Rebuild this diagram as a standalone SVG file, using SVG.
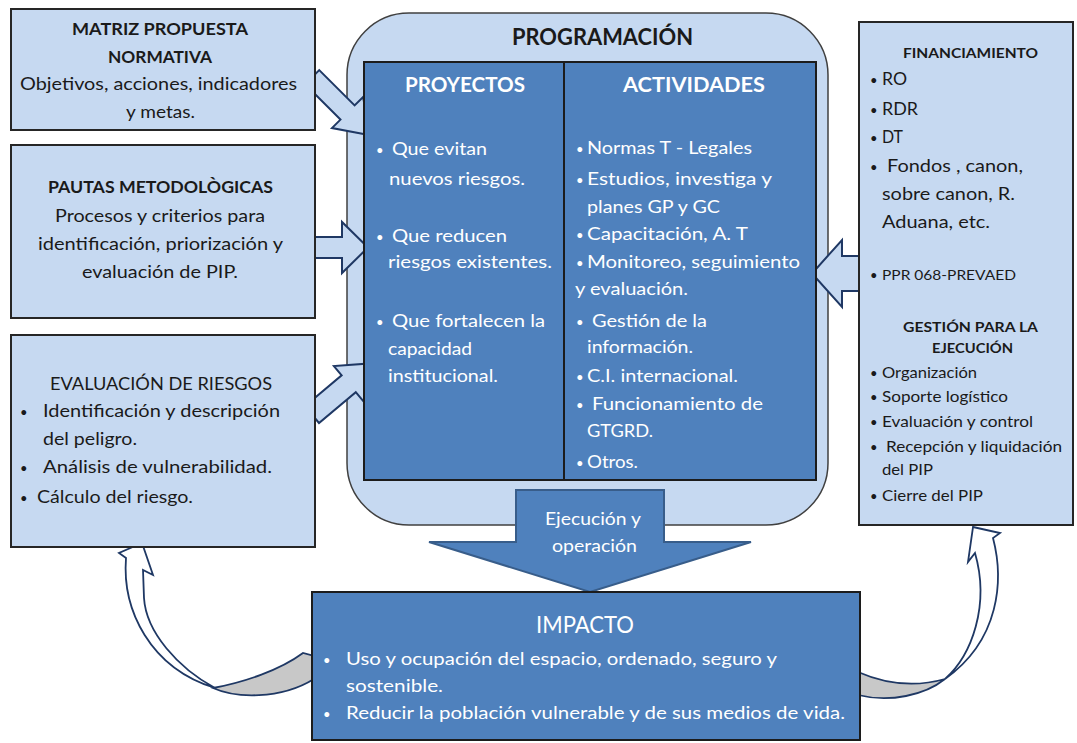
<svg xmlns="http://www.w3.org/2000/svg" width="1077" height="743" viewBox="0 0 1077 743">
<style>
.lb{fill:#C6D9F1;stroke:#262626;stroke-width:2}
.db{fill:#4F81BD;stroke:#1c1c1c;stroke-width:2}
text{font-family:Lato,"Liberation Sans",sans-serif;fill:#1a1a1a;font-size:17px}
.w{fill:#ffffff}
.b{font-weight:bold}
.h{font-size:14px}
.s{font-size:15px}
.bu{font-size:13px}
.arr{fill:#C6D9F1;stroke:#1F3864;stroke-width:2;stroke-linejoin:miter}
.carr{fill:#ffffff;stroke:#1F3864;stroke-width:1.8;stroke-linejoin:miter}
.gray{fill:#C8C8C8;stroke:#1F3864;stroke-width:1.8}
.ej{fill:#4F81BD;stroke:#385D8A;stroke-width:2}
</style>
<rect width="1077" height="743" fill="#ffffff"/>

<g id="programacion">
<rect x="347" y="13" width="481" height="512" rx="62" ry="62" fill="#C6D9F1" stroke="#404040" stroke-width="1.5"/>
<text x="512" y="45" class="b" font-size="22" textLength="181" lengthAdjust="spacingAndGlyphs" style="font-size:22px">PROGRAMACIÓN</text>
</g>

<g id="connectors">
<polygon class="arr" transform="translate(315,80) rotate(45)" points="-4,-10 46,-10 46,-22 78,0 46,22 46,10 -4,10"/>
<polygon class="arr" points="305,237 342,237 342,222 368,247.5 342,273 342,258 305,258"/>
<polygon class="arr" transform="translate(315,412) rotate(-40)" points="-4,-11 44,-11 44,-23 76,0 44,23 44,11 -4,11"/>
<polygon class="arr" points="870,256 842,256 842,240 812,273.5 842,307 842,291 870,291"/>
<g id="ejecucion">
<polygon class="ej" points="516,490 664,490 664,542 751,542 590,592 429,542 516,542"/>
<text x="545" y="525" class="w" textLength="96" lengthAdjust="spacingAndGlyphs">Ejecución y</text>
<text x="552" y="552" class="w" textLength="85" lengthAdjust="spacingAndGlyphs">operación</text>
</g>
<path class="carr" d="M142,543 L119,553 L126,558 C122,610 150,668 215,688 C178,668 146,632 144,598 L143,570 L153,575 Z"/>
<path class="gray" d="M213,688 C235,698 280,700 314,679 L314,656 L303,653 C280,670 245,682 213,688 Z"/>
<path class="carr" d="M973,527 L1000,533 L993,538 C1004,580 1000,640 945,679 C972,655 990,605 975,553 L968,562 Z"/>
<path class="gray" d="M945,679 C925,695 890,703 858,695 L858,672 C890,686 920,686 945,679 Z"/>
</g>

<g id="proyectos">
<rect class="db" x="364" y="62" width="200" height="418"/>
<text x="405" y="92" class="w b" style="font-size:20px" textLength="120" lengthAdjust="spacingAndGlyphs">PROYECTOS</text>
<text x="376" y="155" class="w bu">•</text>
<text x="392" y="155" class="w" textLength="95" lengthAdjust="spacingAndGlyphs">Que evitan</text>
<text x="389" y="185" class="w" textLength="136" lengthAdjust="spacingAndGlyphs">nuevos riesgos.</text>
<text x="376" y="242" class="w bu">•</text>
<text x="392" y="242" class="w" textLength="115" lengthAdjust="spacingAndGlyphs">Que reducen</text>
<text x="388" y="268" class="w" textLength="164" lengthAdjust="spacingAndGlyphs">riesgos existentes.</text>
<text x="376" y="327" class="w bu">•</text>
<text x="392" y="327" class="w" textLength="153" lengthAdjust="spacingAndGlyphs">Que fortalecen la</text>
<text x="388" y="355" class="w" textLength="84" lengthAdjust="spacingAndGlyphs">capacidad</text>
<text x="388" y="382" class="w" textLength="110" lengthAdjust="spacingAndGlyphs">institucional.</text>
</g>

<g id="actividades">
<rect class="db" x="564" y="62" width="252" height="418"/>
<text x="623" y="92" class="w b" style="font-size:20px" textLength="142" lengthAdjust="spacingAndGlyphs">ACTIVIDADES</text>
<text x="576" y="154" class="w bu">•</text>
<text x="587" y="154" class="w" textLength="165" lengthAdjust="spacingAndGlyphs">Normas T - Legales</text>
<text x="576" y="185" class="w bu">•</text>
<text x="587" y="185" class="w" textLength="185" lengthAdjust="spacingAndGlyphs">Estudios, investiga y</text>
<text x="587" y="213" class="w" textLength="133" lengthAdjust="spacingAndGlyphs">planes GP y GC</text>
<text x="576" y="240" class="w bu">•</text>
<text x="587" y="240" class="w" textLength="161" lengthAdjust="spacingAndGlyphs">Capacitación,   A. T</text>
<text x="576" y="268" class="w bu">•</text>
<text x="587" y="268" class="w" textLength="213" lengthAdjust="spacingAndGlyphs">Monitoreo, seguimiento</text>
<text x="575" y="295" class="w" textLength="113" lengthAdjust="spacingAndGlyphs">y evaluación.</text>
<text x="576" y="327" class="w bu">•</text>
<text x="592" y="327" class="w" textLength="115" lengthAdjust="spacingAndGlyphs">Gestión de la</text>
<text x="587" y="353" class="w" textLength="106" lengthAdjust="spacingAndGlyphs">información.</text>
<text x="576" y="382" class="w bu">•</text>
<text x="587" y="382" class="w" textLength="151" lengthAdjust="spacingAndGlyphs">C.I. internacional.</text>
<text x="576" y="410" class="w bu">•</text>
<text x="592" y="410" class="w" textLength="171" lengthAdjust="spacingAndGlyphs">Funcionamiento de</text>
<text x="587" y="437" class="w" textLength="66" lengthAdjust="spacingAndGlyphs">GTGRD.</text>
<text x="576" y="468" class="w bu">•</text>
<text x="587" y="468" class="w" textLength="51" lengthAdjust="spacingAndGlyphs">Otros.</text>
</g>

<g id="matriz">
<rect class="lb" x="11" y="9" width="304" height="121"/>
<text x="72" y="35" class="b" textLength="176" lengthAdjust="spacingAndGlyphs">MATRIZ PROPUESTA</text>
<text x="108" y="63" class="b" textLength="104" lengthAdjust="spacingAndGlyphs">NORMATIVA</text>
<text x="20" y="90" textLength="277" lengthAdjust="spacingAndGlyphs">Objetivos, acciones, indicadores</text>
<text x="126" y="118" textLength="69" lengthAdjust="spacingAndGlyphs">y metas.</text>
</g>

<g id="pautas">
<rect class="lb" x="11" y="145" width="304" height="173"/>
<text x="48" y="193" class="b" textLength="225" lengthAdjust="spacingAndGlyphs">PAUTAS METODOLÒGICAS</text>
<text x="55" y="222" textLength="210" lengthAdjust="spacingAndGlyphs">Procesos y criterios para</text>
<text x="38" y="250" textLength="245" lengthAdjust="spacingAndGlyphs">identificación, priorización y</text>
<text x="82" y="278" textLength="156" lengthAdjust="spacingAndGlyphs">evaluación de PIP.</text>
</g>

<g id="evaluacion">
<rect class="lb" x="11" y="335" width="304" height="212"/>
<text x="50" y="390" textLength="222" lengthAdjust="spacingAndGlyphs">EVALUACIÓN DE RIESGOS</text>
<text x="20" y="417" class="bu">•</text>
<text x="43" y="417" textLength="237" lengthAdjust="spacingAndGlyphs">Identificación y descripción</text>
<text x="43" y="445" textLength="94" lengthAdjust="spacingAndGlyphs">del peligro.</text>
<text x="20" y="473" class="bu">•</text>
<text x="43" y="473" textLength="229" lengthAdjust="spacingAndGlyphs">Análisis de vulnerabilidad.</text>
<text x="20" y="503" class="bu">•</text>
<text x="37" y="503" textLength="156" lengthAdjust="spacingAndGlyphs">Cálculo del riesgo.</text>
</g>

<g id="financiamiento">
<rect class="lb" x="859" y="22" width="214" height="503"/>
<text x="903" y="58" class="b h" textLength="135" lengthAdjust="spacingAndGlyphs">FINANCIAMIENTO</text>
<text x="870" y="85" class="bu">•</text>
<text x="882" y="85" textLength="25" lengthAdjust="spacingAndGlyphs">RO</text>
<text x="870" y="115" class="bu">•</text>
<text x="882" y="115" textLength="36" lengthAdjust="spacingAndGlyphs">RDR</text>
<text x="870" y="143" class="bu">•</text>
<text x="882" y="143" textLength="21" lengthAdjust="spacingAndGlyphs">DT</text>
<text x="870" y="172" class="bu">•</text>
<text x="887" y="172" textLength="136" lengthAdjust="spacingAndGlyphs">Fondos , canon,</text>
<text x="882" y="200" textLength="133" lengthAdjust="spacingAndGlyphs">sobre canon, R.</text>
<text x="882" y="228" textLength="108" lengthAdjust="spacingAndGlyphs">Aduana, etc.</text>
<text x="870" y="280" class="bu">•</text>
<text x="882" y="280" class="h" textLength="134" lengthAdjust="spacingAndGlyphs">PPR 068-PREVAED</text>
<text x="903" y="332" class="b h" textLength="135" lengthAdjust="spacingAndGlyphs">GESTIÓN PARA LA</text>
<text x="932" y="353" class="b h" textLength="81" lengthAdjust="spacingAndGlyphs">EJECUCIÓN</text>
<text x="870" y="378" class="bu">•</text>
<text x="882" y="378" class="s" textLength="95" lengthAdjust="spacingAndGlyphs">Organización</text>
<text x="870" y="402" class="bu">•</text>
<text x="882" y="402" class="s" textLength="126" lengthAdjust="spacingAndGlyphs">Soporte logístico</text>
<text x="870" y="427" class="bu">•</text>
<text x="882" y="427" class="s" textLength="151" lengthAdjust="spacingAndGlyphs">Evaluación y control</text>
<text x="870" y="452" class="bu">•</text>
<text x="886" y="452" class="s" textLength="176" lengthAdjust="spacingAndGlyphs">Recepción y liquidación</text>
<text x="882" y="475" class="s" textLength="51" lengthAdjust="spacingAndGlyphs">del PIP</text>
<text x="870" y="501" class="bu">•</text>
<text x="882" y="501" class="s" textLength="101" lengthAdjust="spacingAndGlyphs">Cierre del PIP</text>
</g>

<g id="impacto">
<rect class="db" x="312" y="592" width="548" height="148"/>
<text x="536" y="633" class="w" style="font-size:24px" textLength="98" lengthAdjust="spacingAndGlyphs">IMPACTO</text>
<text x="323" y="665" class="w bu">•</text>
<text x="346" y="665" class="w" style="font-size:18px" textLength="431" lengthAdjust="spacingAndGlyphs">Uso y ocupación del espacio, ordenado, seguro y</text>
<text x="346" y="692" class="w" style="font-size:18px" textLength="97" lengthAdjust="spacingAndGlyphs">sostenible.</text>
<text x="323" y="719" class="w bu">•</text>
<text x="346" y="719" class="w" style="font-size:18px" textLength="499" lengthAdjust="spacingAndGlyphs">Reducir la población vulnerable y de sus medios de vida.</text>
</g>
</svg>
